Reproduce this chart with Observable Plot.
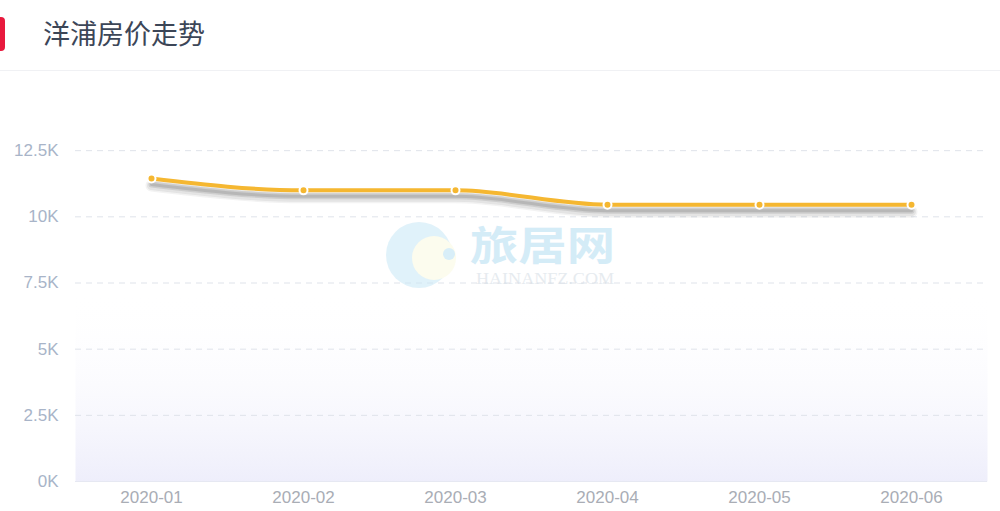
<!DOCTYPE html>
<html><head><meta charset="utf-8">
<script src="https://cdn.jsdelivr.net/npm/d3@7"></script>
<script src="https://cdn.jsdelivr.net/npm/@observablehq/plot@0.6"></script>
<style>
body{margin:0;background:#fff;font-family:"Noto Sans CJK SC","Noto Sans",sans-serif;}
#wrap{position:relative;width:1000px;height:511px;overflow:hidden;}
#head{position:relative;height:71px;border-bottom:1px solid #f0f1f4;box-sizing:border-box;}
#badge{position:absolute;left:-6px;top:17px;width:11px;height:34px;background:#e8193d;border-radius:4px;}
#title{position:absolute;left:43px;top:14px;font-size:27px;line-height:38px;color:#3c4657;}
#chart{position:absolute;left:0;top:72px;}
#wm{position:absolute;left:383px;top:210px;pointer-events:none;opacity:0.6;}
</style></head><body>
<div id="wrap">
<div id="head"><div id="badge"></div><div id="title">洋浦房价走势</div></div>
<div id="chart"></div>
<div id="wm">
<svg width="260" height="90">
<circle cx="36" cy="45" r="33" fill="#cdeaf7"/>
<circle cx="51" cy="48" r="22" fill="#fbfbe3"/>
<circle cx="66" cy="44" r="6" fill="#bfe3f5"/>
<text x="87" y="50" font-size="40" textLength="145" lengthAdjust="spacingAndGlyphs" fill="#b9e0f3" font-family="Noto Sans CJK SC" font-weight="bold">旅居网</text>
<text x="93" y="74" font-size="16" textLength="138" lengthAdjust="spacingAndGlyphs" fill="#d6dee6" font-family="Liberation Serif">HAINANFZ.COM</text>
</svg></div>
</div>
<script>
const months = ["2020-01","2020-02","2020-03","2020-04","2020-05","2020-06"];
const prices = [11450, 11000, 11000, 10460, 10460, 10460];
const yTicks = [0, 2500, 5000, 7500, 10000, 12500];

const data = months.map((m, i) => ({month: m, price: prices[i]}));
const shadowLayers = [
  {w: 12, o: 0.06, dy: 7},
  {w: 9, o: 0.08, dy: 7},
  {w: 6, o: 0.12, dy: 6},
  {w: 3, o: 0.15, dy: 6}
];

const plot = Plot.plot({
  width: 1000,
  height: 439,
  marginLeft: 75,
  marginRight: 13,
  marginTop: 12,
  marginBottom: 30,
  style: {fontFamily: "'Liberation Sans', Arial, sans-serif", fontSize: "17px", color: "#a8b4c8", background: "transparent"},
  x: {type: "point", domain: months, padding: 0.5, label: null},
  y: {domain: [0, 15000], ticks: yTicks, label: null, tickFormat: d => (d / 1000) + "K"},
  marks: [
    Plot.frame({fill: "url(#bgGrad)", stroke: null}),
    Plot.gridY(yTicks, {stroke: "#dfe3ea", strokeOpacity: 1, strokeDasharray: "6,5"}),
    Plot.ruleY([0], {stroke: "#e6e8f2"}),
    Plot.axisY(yTicks, {tickSize: 0, tickPadding: 17, fontSize: 17, fill: "#a8b4c8", label: null, tickFormat: d => (d / 1000) + "K"}),
    Plot.axisX({tickSize: 0, tickPadding: 9, fontSize: 17, fill: "#a9adb5", label: null}),
    ...shadowLayers.map(s => Plot.line(data, {x: "month", y: "price", stroke: "#333", strokeOpacity: s.o, strokeWidth: s.w, dy: s.dy, curve: "monotone-x", strokeLinecap: "round"})),
    Plot.line(data, {x: "month", y: "price", stroke: "#f5b731", strokeWidth: 4, curve: "monotone-x"}),
    Plot.dot(data, {x: "month", y: "price", r: 4, fill: "#f5b731", stroke: "#fff", strokeWidth: 2})
  ]
});

const ns = "http://www.w3.org/2000/svg";
const defs = document.createElementNS(ns, "defs");
defs.innerHTML = `
<linearGradient id="bgGrad" x1="0" y1="0" x2="0" y2="1">
  <stop offset="0" stop-color="#ffffff" stop-opacity="0"/>
  <stop offset="0.52" stop-color="#ffffff" stop-opacity="0"/>
  <stop offset="1" stop-color="#eeeefb" stop-opacity="1"/>
</linearGradient>`;
plot.insertBefore(defs, plot.firstChild);
document.getElementById("chart").appendChild(plot);
</script>
</body></html>
